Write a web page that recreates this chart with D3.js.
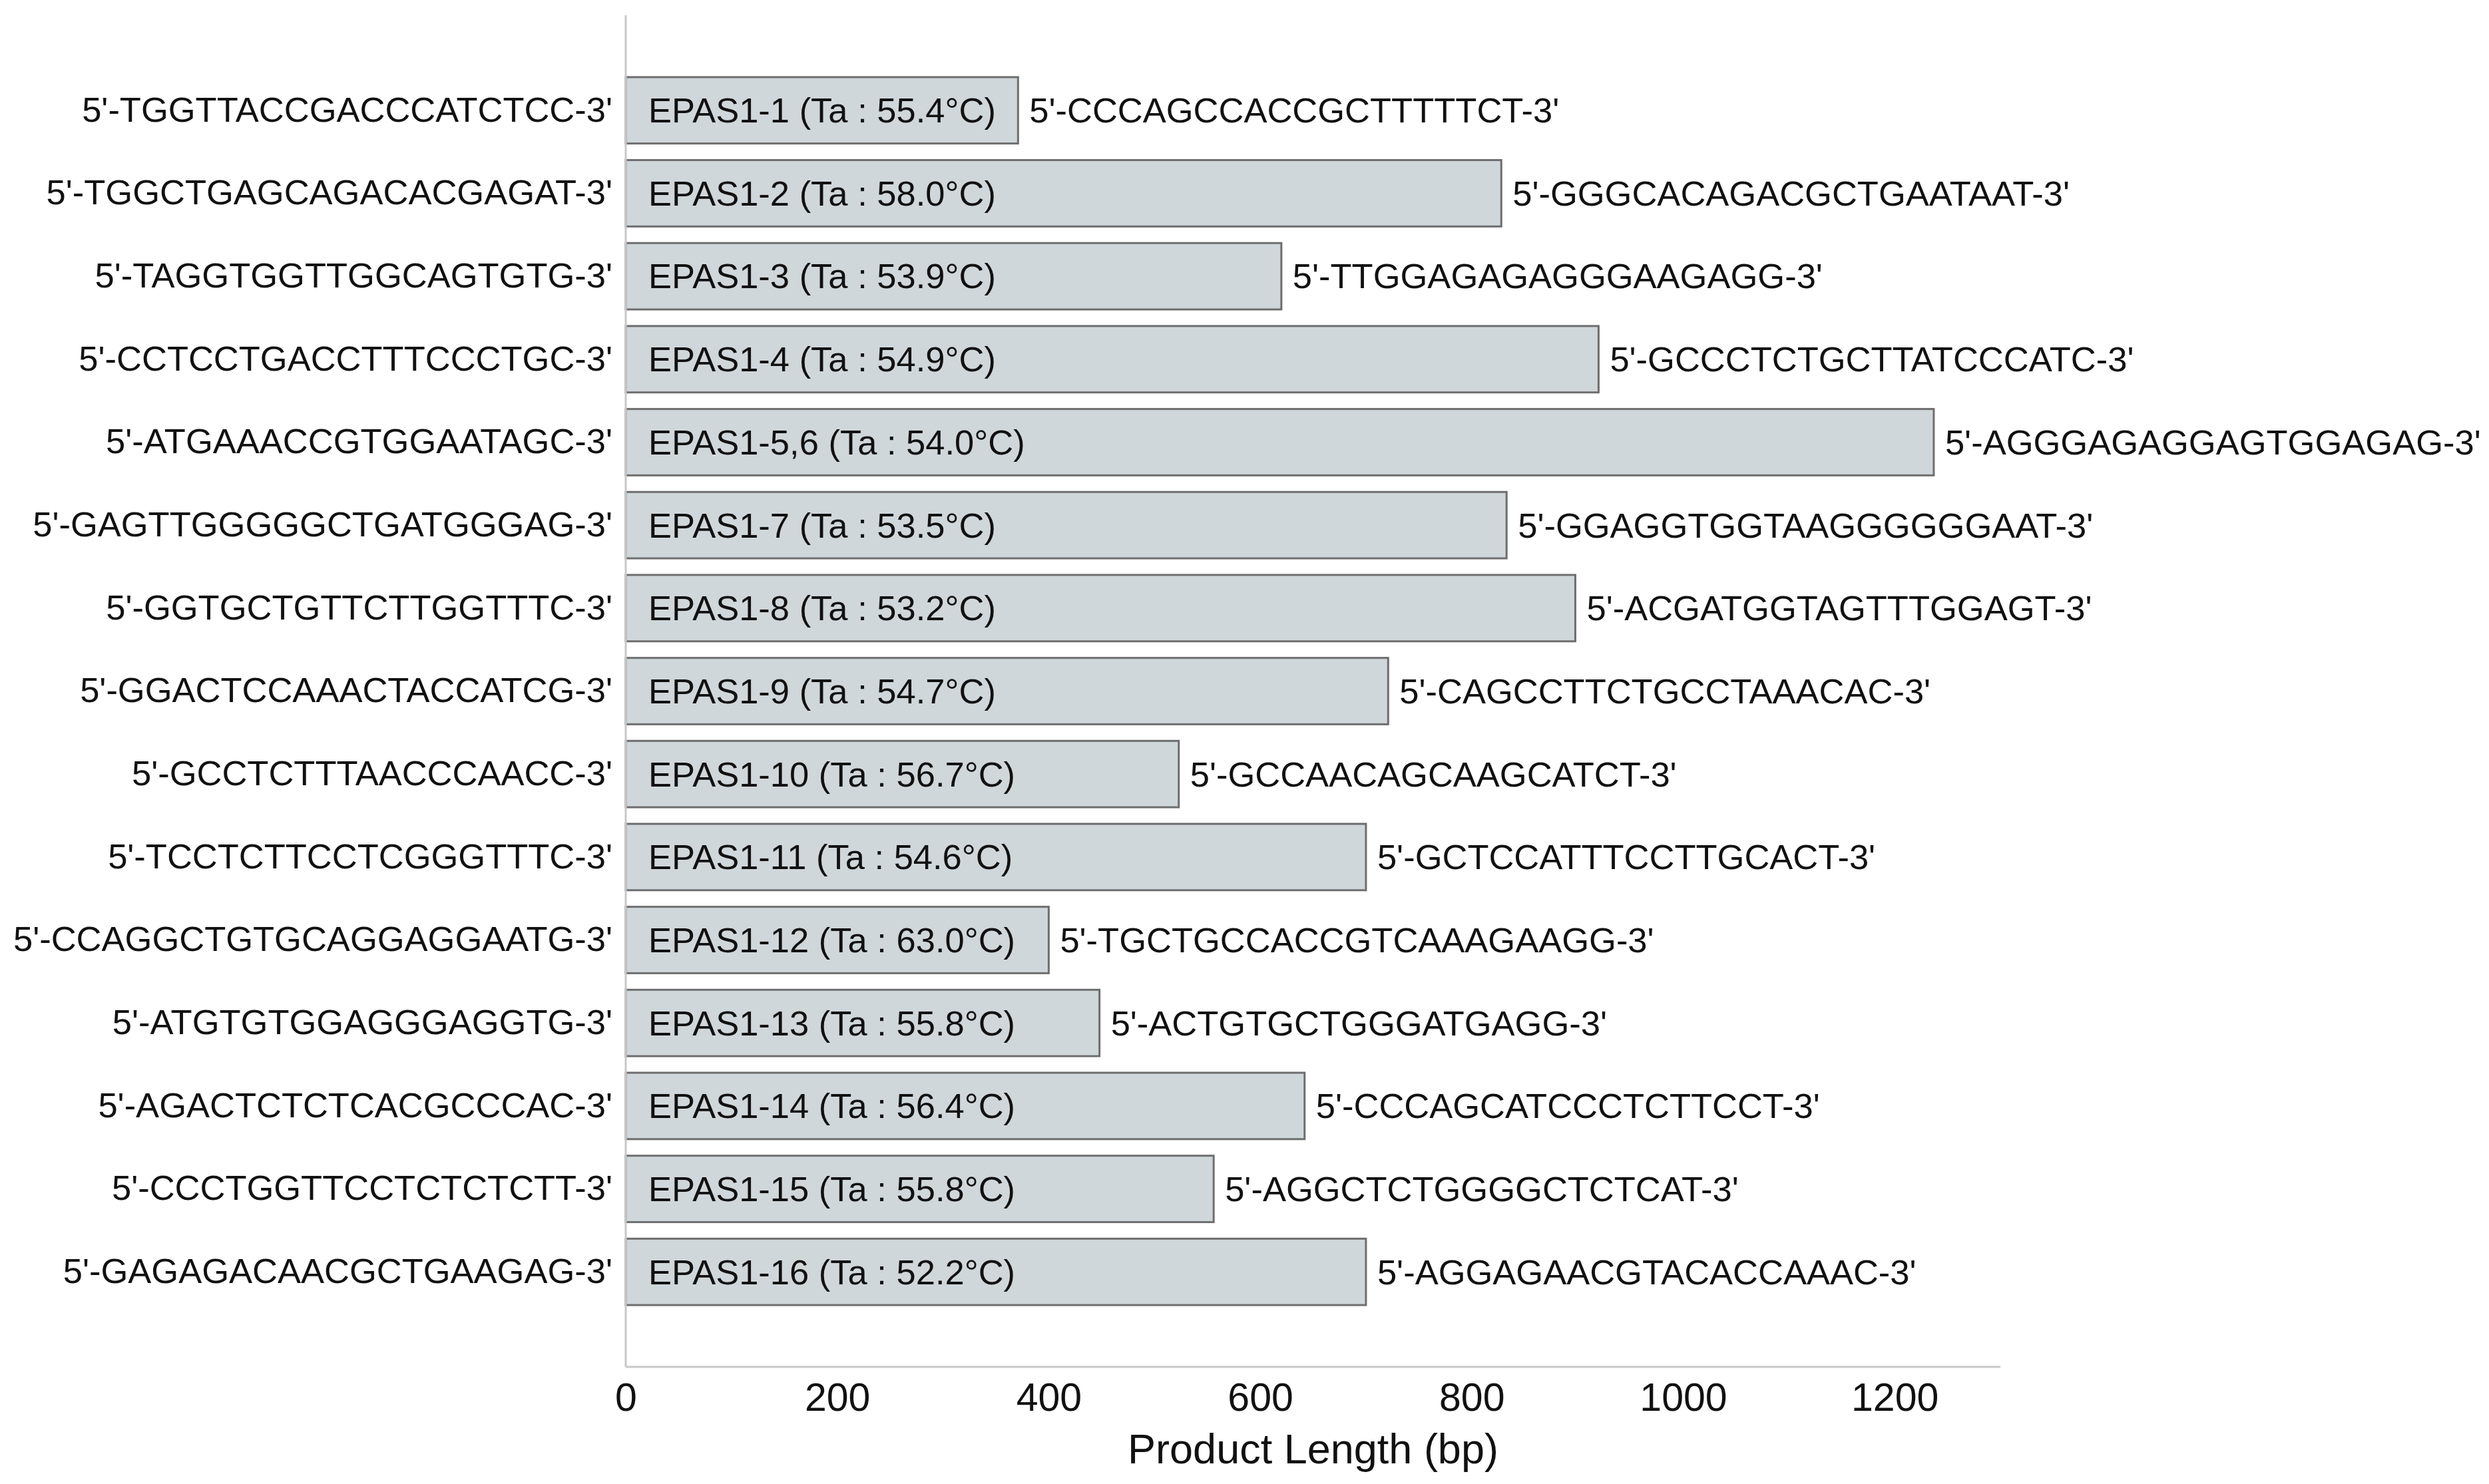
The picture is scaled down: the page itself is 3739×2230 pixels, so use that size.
<!DOCTYPE html>
<html>
<head>
<meta charset="utf-8">
<script src="https://cdn.jsdelivr.net/npm/d3@7"></script>
<style>
    html, body { margin: 0; padding: 0; background: #fff; }
    svg { display: block; font-family: "Liberation Sans", Arial, sans-serif; }
</style>
</head>
<body>
<svg id="chart" width="3739" height="2230"></svg>
<script>
var primerIds = ["EPAS1-1", "EPAS1-2", "EPAS1-3", "EPAS1-4", "EPAS1-5,6", "EPAS1-7", "EPAS1-8",
    "EPAS1-9", "EPAS1-10", "EPAS1-11", "EPAS1-12", "EPAS1-13", "EPAS1-14", "EPAS1-15", "EPAS1-16"];

var annealTemps = [55.4, 58.0, 53.9, 54.9, 54.0, 53.5, 53.2, 54.7, 56.7, 54.6, 63.0, 55.8, 56.4, 55.8, 52.2];

var productLengths = [371, 828, 620, 920, 1237, 833, 898, 721, 523, 700, 400, 448, 642, 556, 700];

var forwardPrimers = ["TGGTTACCGACCCATCTCC", "TGGCTGAGCAGACACGAGAT", "TAGGTGGTTGGCAGTGTG",
    "CCTCCTGACCTTTCCCTGC", "ATGAAACCGTGGAATAGC", "GAGTTGGGGGCTGATGGGAG", "GGTGCTGTTCTTGGTTTC",
    "GGACTCCAAACTACCATCG", "GCCTCTTTAACCCAACC", "TCCTCTTCCTCGGGTTTC", "CCAGGCTGTGCAGGAGGAATG",
    "ATGTGTGGAGGGAGGTG", "AGACTCTCTCACGCCCAC", "CCCTGGTTCCTCTCTCTT", "GAGAGACAACGCTGAAGAG"];

var reversePrimers = ["CCCAGCCACCGCTTTTTCT", "GGGCACAGACGCTGAATAAT", "TTGGAGAGAGGGAAGAGG",
    "GCCCTCTGCTTATCCCATC", "AGGGAGAGGAGTGGAGAG", "GGAGGTGGTAAGGGGGGAAT", "ACGATGGTAGTTTGGAGT",
    "CAGCCTTCTGCCTAAACAC", "GCCAACAGCAAGCATCT", "GCTCCATTTCCTTGCACT", "TGCTGCCACCGTCAAAGAAGG",
    "ACTGTGCTGGGATGAGG", "CCCAGCATCCCTCTTCCT", "AGGCTCTGGGGCTCTCAT", "AGGAGAACGTACACCAAAC"];

var xTicks = [0, 200, 400, 600, 800, 1000, 1200];
var xMax = 1300;
var xTitle = "Product Length (bp)";

// plot frame (not "top": that name is taken by window.top)
var plotLeft = 940, plotRight = 3005, plotTop = 23, plotBottom = 2054;
var labelSize = 52.5;

var svg = d3.select("#chart");

var x = d3.scaleLinear().domain([0, xMax]).range([plotLeft, plotRight]);
var y = d3.scaleBand()
    .domain(d3.range(primerIds.length))
    .range([plotTop, plotBottom])
    .paddingInner(0.2)
    .paddingOuter(0.745);

var fmtSeq = s => "5'-" + s + "-3'";

// bars
var bars = svg.append("g").attr("class", "bars");
bars.selectAll("rect")
    .data(productLengths)
    .join("rect")
    .attr("x", x(0))
    .attr("y", (d, i) => y(i))
    .attr("width", d => x(d) - x(0))
    .attr("height", y.bandwidth())
    .attr("fill", "#d0d7da")
    .attr("stroke", "#6e6e6e")
    .attr("stroke-width", 3);

// name + Ta inside the bar
bars.selectAll("text.inner")
    .data(primerIds)
    .join("text")
    .attr("class", "inner")
    .attr("x", x(0) + 34)
    .attr("y", (d, i) => y(i) + y.bandwidth() / 2)
    .attr("dy", "0.35em")
    .attr("font-size", labelSize)
    .attr("fill", "#111")
    .text((d, i) => d + " (Ta : " + annealTemps[i].toFixed(1) + "°C)");

// reverse primer right of the bar
bars.selectAll("text.rev")
    .data(reversePrimers)
    .join("text")
    .attr("class", "rev")
    .attr("x", (d, i) => x(productLengths[i]) + 17)
    .attr("y", (d, i) => y(i) + y.bandwidth() / 2)
    .attr("dy", "0.35em")
    .attr("font-size", labelSize)
    .attr("fill", "#111")
    .text(d => fmtSeq(d));

// y axis: forward primers
var yAxis = svg.append("g")
    .attr("transform", "translate(" + plotLeft + ",0)")
    .call(d3.axisLeft(y).tickSize(0).tickPadding(20).tickFormat(i => fmtSeq(forwardPrimers[i])));
yAxis.select(".domain").remove();
yAxis.selectAll("text")
    .attr("font-size", labelSize)
    .attr("font-family", "Liberation Sans, Arial, sans-serif")
    .attr("fill", "#111");

// x axis
var xAxis = svg.append("g")
    .attr("transform", "translate(0," + plotBottom + ")")
    .call(d3.axisBottom(x).tickValues(xTicks).tickFormat(d3.format("d")).tickSize(0).tickPadding(24));
xAxis.select(".domain").remove();
xAxis.selectAll("text")
    .attr("font-size", 59)
    .attr("font-family", "Liberation Sans, Arial, sans-serif")
    .attr("fill", "#111");

// spines
svg.append("line")
    .attr("x1", plotLeft).attr("x2", plotLeft)
    .attr("y1", plotTop).attr("y2", plotBottom)
    .attr("stroke", "#c8c8c8")
    .attr("stroke-width", 3);
svg.append("line")
    .attr("x1", plotLeft).attr("x2", plotRight)
    .attr("y1", plotBottom).attr("y2", plotBottom)
    .attr("stroke", "#c8c8c8")
    .attr("stroke-width", 3);

svg.append("text")
    .attr("x", (plotLeft + plotRight) / 2)
    .attr("y", 2177)
    .attr("dy", "0.35em")
    .attr("text-anchor", "middle")
    .attr("font-size", 63)
    .attr("fill", "#111")
    .text(xTitle);
</script>
</body>
</html>
